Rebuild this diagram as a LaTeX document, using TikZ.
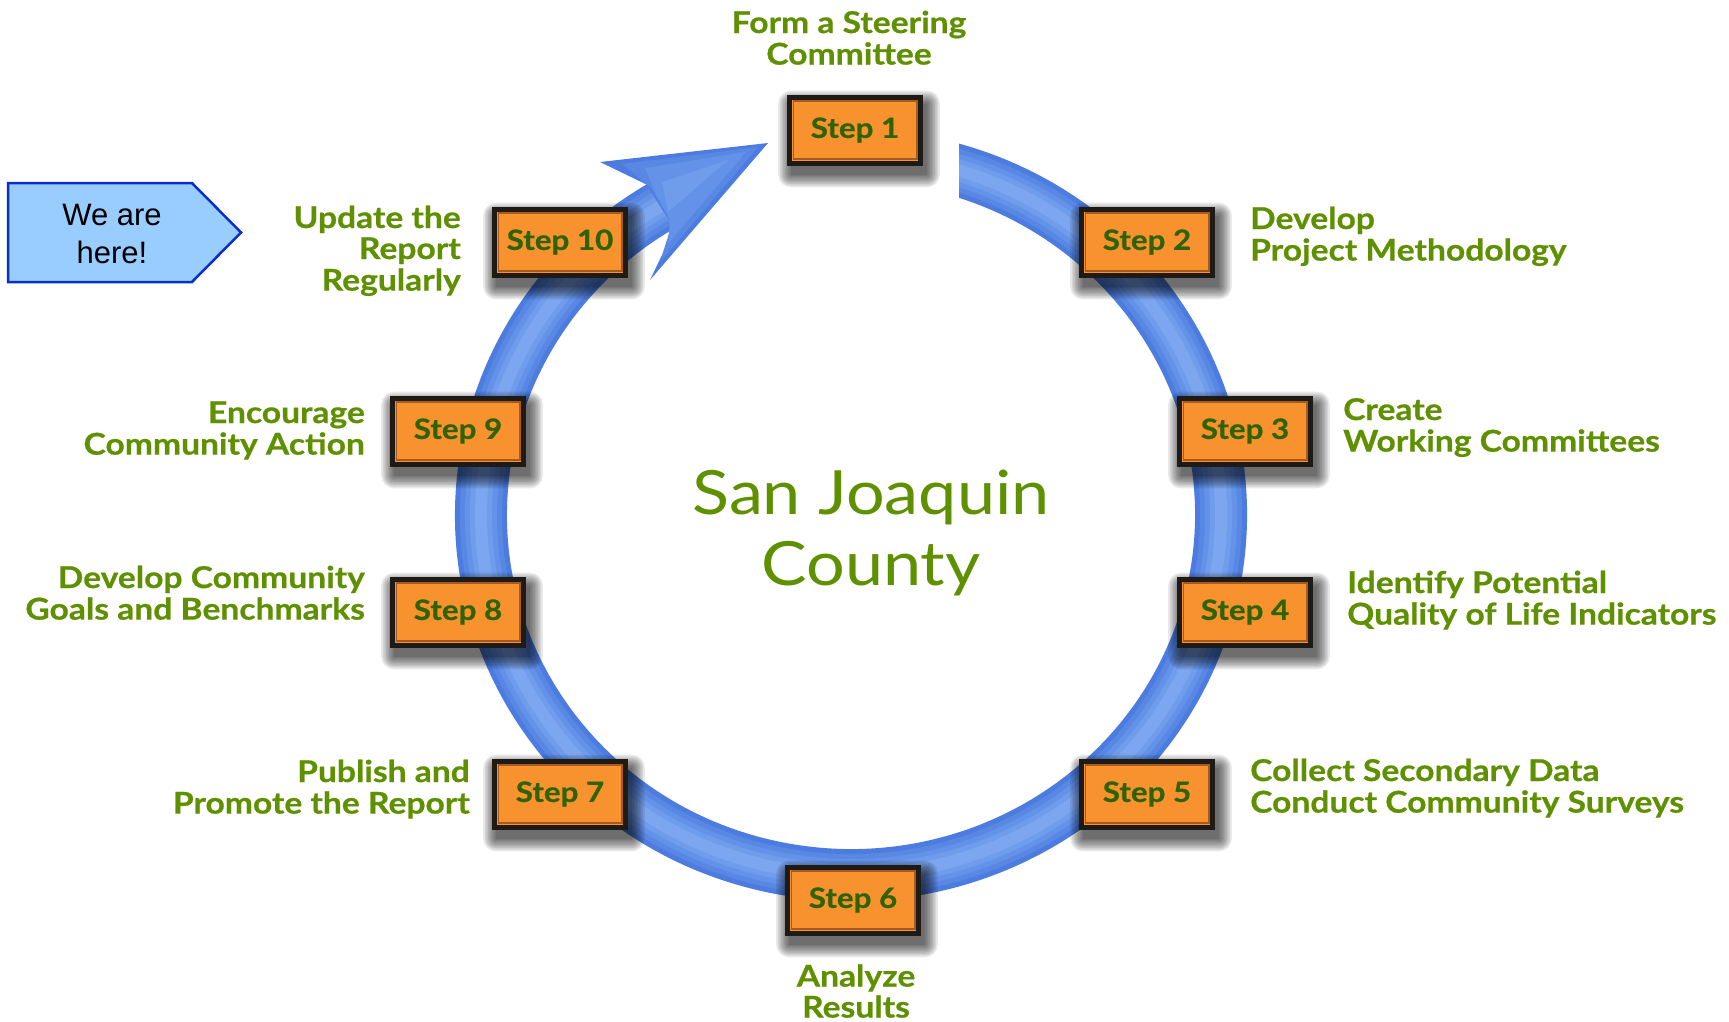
\documentclass[tikz,border=0pt]{standalone}
\usepackage{fontspec}
\newfontfamily\gillfont{Lato}[FakeStretch=1.12]
\newfontfamily\arialfont{Liberation Sans}
\definecolor{boxorange}{RGB}{247,146,47}
\definecolor{boxborder}{RGB}{30,26,22}
\definecolor{innerbrown}{RGB}{168,90,30}
\definecolor{steptext}{RGB}{48,98,0}
\definecolor{labgreen}{RGB}{94,144,0}
\definecolor{ringA}{RGB}{76,124,224}
\definecolor{ringB}{RGB}{88,136,228}
\definecolor{ringC}{RGB}{100,146,232}
\definecolor{ringD}{RGB}{112,156,236}
\definecolor{ringE}{RGB}{124,166,239}
\definecolor{calloutfill}{RGB}{153,204,255}
\definecolor{calloutborder}{RGB}{10,46,204}
\newcommand{\tabl}[1]{\begin{tabular}[t]{@{}l@{}}#1\end{tabular}}
\newcommand{\tabr}[1]{\begin{tabular}[t]{@{}r@{}}#1\end{tabular}}
\newcommand{\tabc}[1]{\begin{tabular}[t]{@{}c@{}}#1\end{tabular}}
\pgfdeclarelayer{ringlayer}
\pgfdeclarelayer{shadowlayer}
\pgfsetlayers{ringlayer,shadowlayer,main}
\begin{document}
\begin{tikzpicture}[x=1pt,y=1pt,
  stepbox/.style={rectangle, minimum width=131pt, minimum height=66pt, inner sep=0pt,
    fill=boxorange, draw=boxborder, line width=5pt, text=steptext,
    font=\gillfont\bfseries\fontsize{28}{30}\selectfont\addfontfeature{FakeBold=0.6},
    path picture={\draw[innerbrown, line width=1.6pt]
      ([shift={(3.8pt,3.8pt)}]path picture bounding box.south west) rectangle
      ([shift={(-3.8pt,-3.8pt)}]path picture bounding box.north east);}},
  lab/.style={inner sep=0pt, text=labgreen, font=\gillfont\bfseries\fontsize{30}{31}\selectfont\addfontfeature{FakeBold=0.6}},
  ringpart/.style={line width=#1},
  shadowpart/.style={fill=black, opacity=0.085, rounded corners=#1}
]
\begin{pgfonlayer}{ringlayer}
\useasboundingbox (0,0) rectangle (1729,-1021);
\fill[white] (0,0) rectangle (1729,-1021);
% ring
\begin{scope}
  \clip (0,0) -- (820,0) -- (820,-320) -- (959,-320) -- (959,0) -- (1729,0) -- (1729,-1021) -- (0,-1021) -- cycle;
  \foreach \w/\c in {52/ringA,42/ringB,32/ringC,22/ringD,12/ringE}
    \draw[ringpart=\w pt, \c] (851,-515) ++(80:370 and 360) arc[start angle=80, end angle=-239, x radius=370, y radius=360];
\end{scope}
% arrowhead
\fill[ringA] (768,-143) -- (600,-162) -- (646.5,-184.5) -- (674.5,-229) -- (650,-280) -- cycle;
\fill[ringB] (758,-147) -- (622,-164) -- (651,-188) -- (672,-224) -- (660,-262) -- cycle;
\fill[ringC] (746,-152) -- (645,-168) -- (655,-192) -- (670,-220) -- (668,-244) -- cycle;
\fill[ringD] (728,-160) -- (662,-182) -- (668,-212) -- cycle;
\end{pgfonlayer}

% steps
\node[stepbox] (s1) at (855,-130) {Step 1};
\node[stepbox] (s2) at (1147,-242) {Step 2};
\node[stepbox] (s3) at (1245,-431) {Step 3};
\node[stepbox] (s4) at (1245,-612) {Step 4};
\node[stepbox] (s5) at (1147,-794) {Step 5};
\node[stepbox] (s6) at (853,-900) {Step 6};
\node[stepbox] (s7) at (560,-794) {Step 7};
\node[stepbox] (s8) at (458,-612) {Step 8};
\node[stepbox] (s9) at (458,-431) {Step 9};
\node[stepbox] (s10) at (560,-242) {Step 10};

% soft shadows under the boxes
\begin{pgfonlayer}{shadowlayer}
\foreach \n in {s1,s2,s3,s4,s5,s6,s7,s8,s9,s10}{
  \foreach \i in {0,...,8}{
    \fill[shadowpart=\i*1.6pt] ([shift={(4pt-\i*1.6pt,-9pt-\i*1.6pt)}]\n.south west) rectangle ([shift={(4pt+\i*1.6pt,-9pt+\i*1.6pt)}]\n.north east);
  }
}
\end{pgfonlayer}

% labels
\node[lab, anchor=base] (l1) at (849,-33) {\tabc{Form a Steering\\Committee}};
\node[lab, anchor=base west] (l2) at (1250,-229) {\tabl{Develop\\Project Methodology}};
\node[lab, anchor=base west] (l3) at (1343,-420) {\tabl{Create\\Working Committees}};
\node[lab, anchor=base west] (l4) at (1347,-593) {\tabl{Identify Potential\\Quality of Life Indicators}};
\node[lab, anchor=base west] (l5) at (1250,-781) {\tabl{Collect Secondary Data\\Conduct Community Surveys}};
\node[lab, anchor=south, align=center] (l6) at (856,-1018) {Analyze\\Results};
\node[lab, anchor=base east] (l7) at (470,-782) {\tabr{Publish and\\Promote the Report}};
\node[lab, anchor=base east] (l8) at (365,-588) {\tabr{Develop Community\\Goals and Benchmarks}};
\node[lab, anchor=base east] (l9) at (365,-423) {\tabr{Encourage\\Community Action}};
\node[lab, anchor=base east] (l10) at (461,-228) {\tabr{Update the\\Report\\Regularly}};

% centre
\node[inner sep=0pt, text=labgreen, font=\gillfont\fontsize{61}{71}\selectfont, anchor=base] (ctr) at (871,-514) {\tabc{San Joaquin\\County}};

% callout
\draw[draw=calloutborder, fill=calloutfill, line width=2.5pt, line join=miter]
  (8,-183) -- (192,-183) -- (241,-232.5) -- (192,-282) -- (8,-282) -- cycle;
\node[inner sep=0pt, anchor=base, font=\arialfont\fontsize{31}{38}\selectfont] (here) at (112,-225) {\tabc{We are\\here!}};
\end{tikzpicture}
\end{document}
